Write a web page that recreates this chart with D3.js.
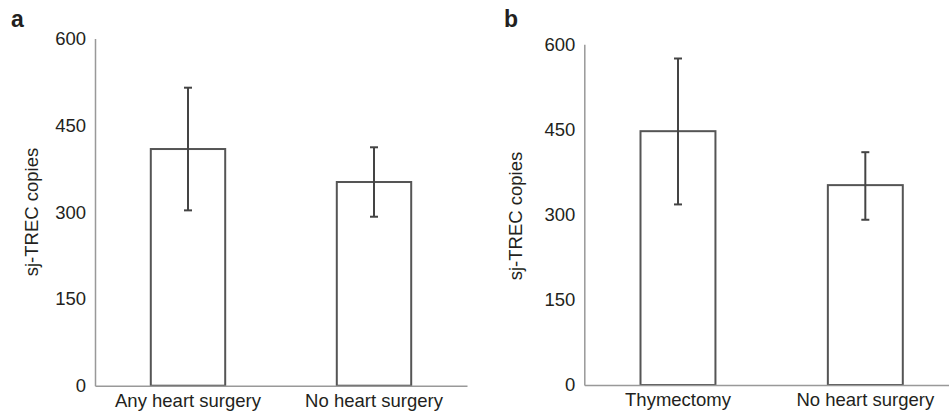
<!DOCTYPE html>
<html>
<head>
<meta charset="utf-8">
<script src="https://cdn.jsdelivr.net/npm/d3@7"></script>
<style>
  body { margin: 0; background: white; }
  svg { display: block; }
  text { font-family: "Liberation Sans", Arial, sans-serif; fill: #231f20; }
</style>
</head>
<body>
<svg id="chart" width="949" height="412"></svg>
<script>
// panel a
var catsA = ["Any heart surgery", "No heart surgery"];
var meansA = [409, 352];
var errLowA = [303, 292];
var errHighA = [515, 412];

// panel b
var catsB = ["Thymectomy", "No heart surgery"];
var meansB = [447, 352];
var errLowB = [318, 291];
var errHighB = [575, 410];

var yTicks = [0, 150, 300, 450, 600];
var yTitle = "sj-TREC copies";

var svg = d3.select("#chart");

function drawPanel(letter, cats, means, lo, hi, lay) {
    var g = svg.append("g");

    var xS = d3.scaleBand()
        .domain(cats)
        .range([lay.x0, lay.x1])
        .paddingInner(0.6)
        .paddingOuter(0.3);

    var yS = d3.scaleLinear()
        .domain([0, 600])
        .range([lay.y0, lay.y1]);

    var data = cats.map((c, i) => ({cat: c, mean: means[i], lo: lo[i], hi: hi[i]}));

    // bars
    g.selectAll("rect")
        .data(data)
        .enter()
        .append("rect")
        .attr("x", d => xS(d.cat))
        .attr("y", d => yS(d.mean))
        .attr("width", xS.bandwidth())
        .attr("height", d => yS(0) - yS(d.mean))
        .attr("fill", "white")
        .attr("stroke", "#555")
        .attr("stroke-width", 2);

    // error bars
    var cx = d => xS(d.cat) + xS.bandwidth() / 2;
    var eb = g.selectAll(".err")
        .data(data)
        .enter()
        .append("g")
        .attr("class", "err")
        .attr("stroke", "#444")
        .attr("stroke-width", 2);
    eb.append("line")
        .attr("x1", cx).attr("x2", cx)
        .attr("y1", d => yS(d.hi)).attr("y2", d => yS(d.lo));
    eb.append("line")
        .attr("x1", d => cx(d) - 4).attr("x2", d => cx(d) + 4)
        .attr("y1", d => yS(d.hi)).attr("y2", d => yS(d.hi));
    eb.append("line")
        .attr("x1", d => cx(d) - 4).attr("x2", d => cx(d) + 4)
        .attr("y1", d => yS(d.lo)).attr("y2", d => yS(d.lo));

    // y axis
    var ya = g.append("g")
        .attr("transform", "translate(" + lay.x0 + ",0)")
        .call(d3.axisLeft(yS).tickValues(yTicks).tickSize(0).tickPadding(9));
    ya.select(".domain").attr("stroke", "#999").attr("stroke-width", 1.5);
    ya.selectAll("text").style("font-size", "18.5px").attr("fill", "#231f20");

    // x axis
    var xa = g.append("g")
        .attr("transform", "translate(0," + lay.y0 + ")")
        .call(d3.axisBottom(xS).tickSize(0).tickPadding(8));
    xa.select(".domain").attr("stroke", "#999").attr("stroke-width", 1.5);
    xa.selectAll("text").style("font-size", "18.5px").attr("fill", "#231f20");

    g.append("text")
        .attr("transform", "translate(" + lay.tx + "," + lay.ty + ") rotate(-90)")
        .attr("text-anchor", "middle")
        .style("font-size", "18.5px")
        .text(yTitle);

    g.append("text")
        .attr("x", lay.lx)
        .attr("y", lay.ly)
        .style("font-size", "23px")
        .style("font-weight", "bold")
        .text(letter);
}

drawPanel("a", catsA, meansA, errLowA, errHighA,
    {x0: 95, x1: 467, y0: 385.7, y1: 38.5, tx: 38, ty: 212, lx: 11, ly: 27});
drawPanel("b", catsB, meansB, errLowB, errHighB,
    {x0: 584.3, x1: 959, y0: 385, y1: 44.3, tx: 522, ty: 216, lx: 504, ly: 27});
</script>
</body>
</html>
